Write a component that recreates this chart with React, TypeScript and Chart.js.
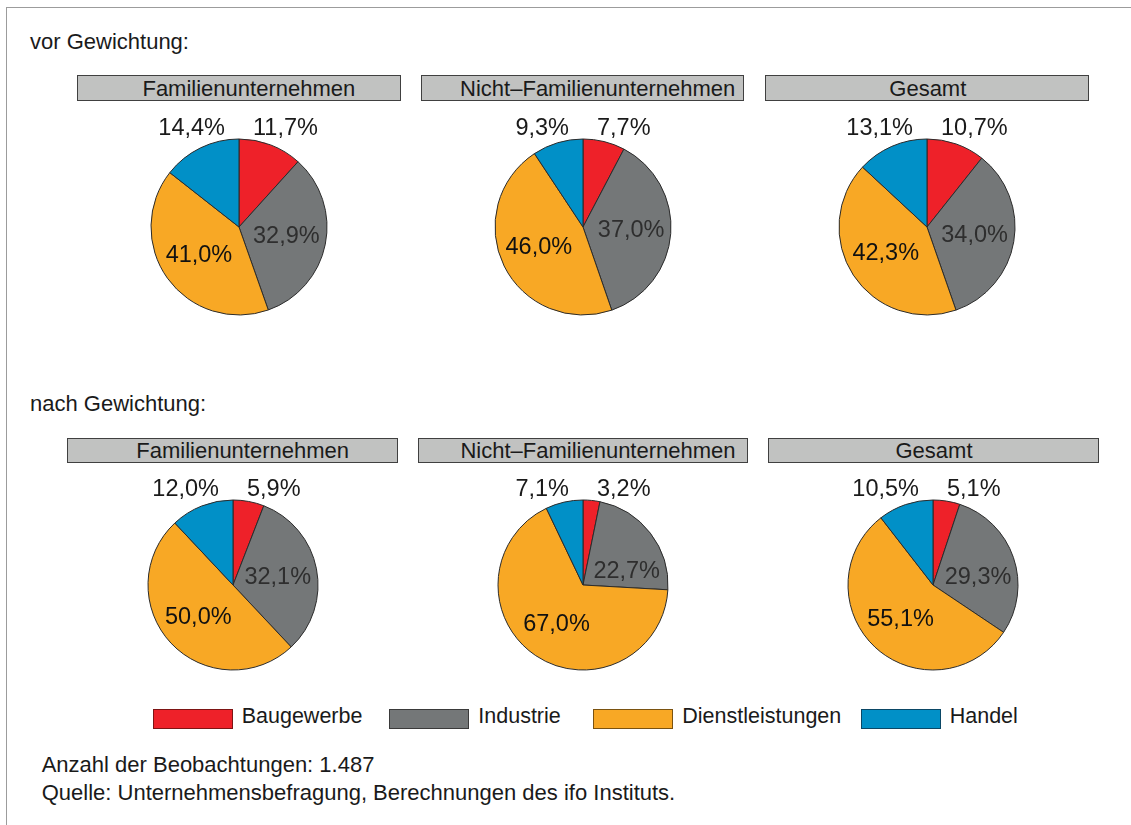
import React, { useEffect, useRef } from 'react';
import { Chart, registerables } from 'chart.js';

Chart.register(...registerables);

// ---------- data ----------
const categories = ['Baugewerbe', 'Industrie', 'Dienstleistungen', 'Handel'];
const sectionTitles = ['vor Gewichtung:', 'nach Gewichtung:'];
const panelTitles = ['Familienunternehmen', 'Nicht–Familienunternehmen', 'Gesamt'];

const vorFamilien = [11.7, 32.9, 41.0, 14.4];
const vorNichtFamilien = [7.7, 37.0, 46.0, 9.3];
const vorGesamt = [10.7, 34.0, 42.3, 13.1];

const nachFamilien = [5.9, 32.1, 50.0, 12.0];
const nachNichtFamilien = [3.2, 22.7, 67.0, 7.1];
const nachGesamt = [5.1, 29.3, 55.1, 10.5];

const notes = [
  'Anzahl der Beobachtungen: 1.487',
  'Quelle: Unternehmensbefragung, Berechnungen des ifo Instituts.',
];

// ---------- styles ----------
const FONT = '"Liberation Sans", Arial, sans-serif';
const TEXT = '#1a1a1a';
const sliceColors = ['#EE2129', '#747778', '#F8A825', '#0190C7'];
const legendBorders = ['#7d1414', '#3a3a3a', '#7a5210', '#0b4766'];
const LABEL_SIZE = 23.5;
const LABEL_PAD = 5;

const CANVAS_W = 260;
const CANVAS_H = 230;

// layout (page coordinates)
const rows = [
  {
    titleTop: 30.5,
    headerTop: 75.3,
    headerH: 26,
    headers: [
      [76.7, 401],
      [421, 744.3],
      [765.3, 1089.3],
    ],
    centers: [239, 583, 927],
    cy: 226.5,
    r: 88,
    data: [vorFamilien, vorNichtFamilien, vorGesamt],
  },
  {
    titleTop: 393,
    headerTop: 437.5,
    headerH: 25.5,
    headers: [
      [67.3, 398],
      [417.7, 748.3],
      [768, 1099],
    ],
    centers: [233, 583, 933],
    cy: 585,
    r: 85,
    data: [nachFamilien, nachNichtFamilien, nachGesamt],
  },
];
const headerTextShift = [20, 30, 1];
const legendBoxLeft = [152.7, 389.3, 593.3, 860.7];

const fmt = (v: number) => v.toFixed(1).replace('.', ',') + '%';

// does a text box centred at (bx,by) lie inside the slice, keeping a small gap to its edges?
function boxFits(
  cx: number, cy: number, bx: number, by: number, w: number, h: number,
  start: number, end: number, R: number
) {
  for (const fx of [-0.5, 0, 0.5]) {
    for (const fy of [-0.5, 0, 0.5]) {
      const dx = bx + fx * w - cx;
      const dy = by + fy * h - cy;
      const rp = Math.hypot(dx, dy);
      if (rp > R - LABEL_PAD) return false;
      let a = Math.atan2(dy, dx);
      while (a < start) a += 2 * Math.PI;
      while (a >= start + 2 * Math.PI) a -= 2 * Math.PI;
      if (a > end) return false;
      const relS = a - start;
      const relE = end - a;
      if (relS < Math.PI / 2 && rp * Math.sin(relS) < LABEL_PAD) return false;
      if (relE < Math.PI / 2 && rp * Math.sin(relE) < LABEL_PAD) return false;
    }
  }
  return true;
}

const labelPlugin = {
  id: 'pieLabels',
  afterDatasetsDraw(chart: any) {
    const ctx = chart.ctx;
    const meta = chart.getDatasetMeta(0);
    const values = chart.data.datasets[0].data as number[];
    ctx.save();
    ctx.font = `${LABEL_SIZE}px ${FONT}`;
    ctx.textBaseline = 'middle';
    meta.data.forEach((arc: any, i: number) => {
      const p = arc.getProps(['x', 'y', 'startAngle', 'endAngle', 'outerRadius'], true);
      const v = values[i];
      const text = fmt(v);
      const mid = (p.startAngle + p.endAngle) / 2;
      if (v < 20) {
        const right = Math.cos(mid) >= 0;
        ctx.textAlign = right ? 'left' : 'right';
        ctx.fillStyle = TEXT;
        ctx.fillText(text, p.x + (right ? 14 : -14), p.y - p.outerRadius - 10);
      } else {
        ctx.textAlign = 'center';
        ctx.fillStyle = i === 1 ? '#2e2e2e' : '#111111';
        const d = p.outerRadius * 0.56;
        const x0 = p.x + Math.cos(mid) * d;
        const y0 = p.y + Math.sin(mid) * d;
        const w = ctx.measureText(text).width;
        const h = LABEL_SIZE * 0.72;
        const R = p.outerRadius;
        let bx = x0;
        let by = y0;
        if (!boxFits(p.x, p.y, x0, y0, w, h, p.startAngle, p.endAngle, R)) {
          let best = Infinity;
          for (let dx = -45; dx <= 45; dx++) {
            for (let dy = -45; dy <= 45; dy++) {
              const d2 = dx * dx + dy * dy;
              if (d2 >= best) continue;
              if (boxFits(p.x, p.y, x0 + dx, y0 + dy, w, h, p.startAngle, p.endAngle, R)) {
                best = d2;
                bx = x0 + dx;
                by = y0 + dy;
              }
            }
          }
        }
        ctx.fillText(text, bx, by);
      }
    });
    ctx.restore();
  },
};

function Pie({ values, cx, cy, r }: { values: number[]; cx: number; cy: number; r: number }) {
  const ref = useRef<HTMLCanvasElement | null>(null);
  useEffect(() => {
    if (!ref.current) return;
    const chart = new Chart(ref.current, {
      type: 'pie',
      data: {
        labels: categories,
        datasets: [
          {
            data: values,
            backgroundColor: sliceColors,
            borderColor: '#2b2b2b',
            borderWidth: 1,
            radius: r,
          } as any,
        ],
      },
      options: {
        responsive: false,
        animation: false,
        layout: { padding: 0 },
        plugins: {
          legend: { display: false },
          tooltip: { enabled: false },
        },
      },
      plugins: [labelPlugin as any],
    });
    return () => chart.destroy();
  }, [values, r]);
  return (
    <canvas
      ref={ref}
      width={CANVAS_W}
      height={CANVAS_H}
      style={{
        position: 'absolute',
        left: cx - CANVAS_W / 2,
        top: cy - CANVAS_H / 2,
        width: CANVAS_W,
        height: CANVAS_H,
      }}
    />
  );
}

export default function App() {
  return (
    <div
      style={{
        position: 'absolute',
        left: 0,
        top: 0,
        width: 1131,
        height: 825,
        background: '#ffffff',
        fontFamily: FONT,
        color: TEXT,
        overflow: 'hidden',
      }}
    >
      <div
        style={{
          position: 'absolute',
          left: 6,
          top: 7,
          width: 1131,
          height: 830,
          borderTop: '1px solid #9c9c9c',
          borderLeft: '1px solid #9c9c9c',
        }}
      />
      {rows.map((row, ri) => (
        <React.Fragment key={ri}>
          <div
            style={{
              position: 'absolute',
              left: 30,
              top: row.titleTop,
              fontSize: 22,
              lineHeight: '22px',
              whiteSpace: 'nowrap',
            }}
          >
            {sectionTitles[ri]}
          </div>
          {row.headers.map(([x0, x1], hi) => (
            <div
              key={'h' + hi}
              style={{
                position: 'absolute',
                left: x0,
                top: row.headerTop,
                width: x1 - x0,
                height: row.headerH,
                boxSizing: 'border-box',
                border: '1.5px solid #404040',
                background: '#C1C2C1',
                fontSize: 22,
                lineHeight: row.headerH - 1 + 'px',
                textAlign: 'center',
                paddingLeft: headerTextShift[hi],
                whiteSpace: 'nowrap',
              }}
            >
              {panelTitles[hi]}
            </div>
          ))}
          {row.centers.map((cx, pi) => (
            <Pie key={'p' + pi} values={row.data[pi]} cx={cx} cy={row.cy} r={row.r} />
          ))}
        </React.Fragment>
      ))}
      {categories.map((c, i) => (
        <React.Fragment key={'l' + i}>
          <div
            style={{
              position: 'absolute',
              left: legendBoxLeft[i],
              top: 709,
              width: 80,
              height: 20,
              boxSizing: 'border-box',
              background: sliceColors[i],
              border: `1.5px solid ${legendBorders[i]}`,
            }}
          />
          <div
            style={{
              position: 'absolute',
              left: legendBoxLeft[i] + 89,
              top: 705.5,
              fontSize: 21.5,
              lineHeight: '21.5px',
              whiteSpace: 'nowrap',
            }}
          >
            {c}
          </div>
        </React.Fragment>
      ))}
      {notes.map((n, i) => (
        <div
          key={'n' + i}
          style={{
            position: 'absolute',
            left: 41.7,
            top: 754 + i * 28,
            fontSize: 22,
            lineHeight: '22px',
            whiteSpace: 'nowrap',
          }}
        >
          {n}
        </div>
      ))}
    </div>
  );
}
